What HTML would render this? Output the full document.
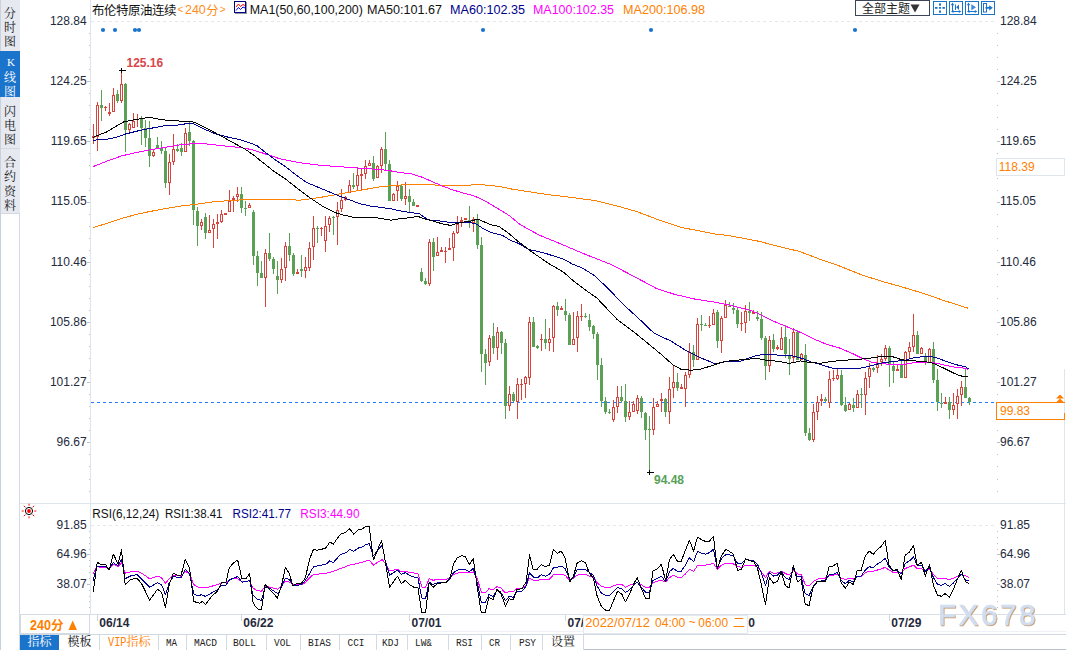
<!DOCTYPE html><html><head><meta charset="utf-8"><title>chart</title><style>html,body{margin:0;padding:0;background:#fff}body{width:1066px;height:650px;overflow:hidden;position:relative;font-family:"Liberation Sans",sans-serif}</style></head><body><svg width="1066" height="650" viewBox="0 0 1066 650" style="position:absolute;left:0;top:0">
<rect width="1066" height="650" fill="#fff"/>
<g shape-rendering="crispEdges">
<rect x="0" y="0" width="1" height="650" fill="#c9d1dc"/>
<rect x="1" y="0" width="19" height="213" fill="#e6e9f0"/>
<rect x="0" y="51" width="20" height="46" fill="#1b74cc"/>
<rect x="1" y="148" width="19" height="1" fill="#d3d8e1"/>
<rect x="1" y="213" width="19" height="1" fill="#d3d8e1"/>
<rect x="19" y="213" width="1" height="437" fill="#d3dae3"/>
<rect x="1064" y="369" width="1" height="245" fill="#dfe5ec"/>
<rect x="90" y="0" width="1" height="614" fill="#dfe5ec"/>
<rect x="20" y="503" width="1046" height="1" fill="#dfe5ec"/>
<rect x="20" y="614" width="1046" height="1" fill="#d9dfe7"/>
<rect x="20" y="634" width="1046" height="1" fill="#d0d8e2"/>
<rect x="378" y="631" width="688" height="1" fill="#eef1f5"/>
<rect x="583" y="649" width="483" height="1" fill="#b9c1cc"/>
</g>
<line x1="91" y1="21.5" x2="994" y2="21.5" stroke="#e3e8ed" stroke-width="1" stroke-dasharray="3 3"/>
<line x1="91" y1="525.5" x2="994" y2="525.5" stroke="#e3e8ed" stroke-width="1" stroke-dasharray="3 3"/>
<g shape-rendering="crispEdges" fill="#b9c1cd">
<rect x="87" y="81" width="3" height="1"/>
<rect x="997" y="81" width="3" height="1"/>
<rect x="87" y="141" width="3" height="1"/>
<rect x="997" y="141" width="3" height="1"/>
<rect x="87" y="202" width="3" height="1"/>
<rect x="997" y="202" width="3" height="1"/>
<rect x="87" y="262" width="3" height="1"/>
<rect x="997" y="262" width="3" height="1"/>
<rect x="87" y="322" width="3" height="1"/>
<rect x="997" y="322" width="3" height="1"/>
<rect x="87" y="382" width="3" height="1"/>
<rect x="997" y="382" width="3" height="1"/>
<rect x="87" y="442" width="3" height="1"/>
<rect x="997" y="442" width="3" height="1"/>
<rect x="89" y="33" width="1" height="1"/>
<rect x="997" y="33" width="1" height="1"/>
<rect x="89" y="45" width="1" height="1"/>
<rect x="997" y="45" width="1" height="1"/>
<rect x="89" y="57" width="1" height="1"/>
<rect x="997" y="57" width="1" height="1"/>
<rect x="89" y="69" width="1" height="1"/>
<rect x="997" y="69" width="1" height="1"/>
<rect x="89" y="93" width="1" height="1"/>
<rect x="997" y="93" width="1" height="1"/>
<rect x="89" y="105" width="1" height="1"/>
<rect x="997" y="105" width="1" height="1"/>
<rect x="89" y="117" width="1" height="1"/>
<rect x="997" y="117" width="1" height="1"/>
<rect x="89" y="129" width="1" height="1"/>
<rect x="997" y="129" width="1" height="1"/>
<rect x="89" y="153" width="1" height="1"/>
<rect x="997" y="153" width="1" height="1"/>
<rect x="89" y="165" width="1" height="1"/>
<rect x="997" y="165" width="1" height="1"/>
<rect x="89" y="178" width="1" height="1"/>
<rect x="997" y="178" width="1" height="1"/>
<rect x="89" y="190" width="1" height="1"/>
<rect x="997" y="190" width="1" height="1"/>
<rect x="89" y="214" width="1" height="1"/>
<rect x="997" y="214" width="1" height="1"/>
<rect x="89" y="226" width="1" height="1"/>
<rect x="997" y="226" width="1" height="1"/>
<rect x="89" y="238" width="1" height="1"/>
<rect x="997" y="238" width="1" height="1"/>
<rect x="89" y="250" width="1" height="1"/>
<rect x="997" y="250" width="1" height="1"/>
<rect x="89" y="274" width="1" height="1"/>
<rect x="997" y="274" width="1" height="1"/>
<rect x="89" y="286" width="1" height="1"/>
<rect x="997" y="286" width="1" height="1"/>
<rect x="89" y="298" width="1" height="1"/>
<rect x="997" y="298" width="1" height="1"/>
<rect x="89" y="310" width="1" height="1"/>
<rect x="997" y="310" width="1" height="1"/>
<rect x="89" y="334" width="1" height="1"/>
<rect x="997" y="334" width="1" height="1"/>
<rect x="89" y="346" width="1" height="1"/>
<rect x="997" y="346" width="1" height="1"/>
<rect x="89" y="358" width="1" height="1"/>
<rect x="997" y="358" width="1" height="1"/>
<rect x="89" y="370" width="1" height="1"/>
<rect x="997" y="370" width="1" height="1"/>
<rect x="89" y="394" width="1" height="1"/>
<rect x="997" y="394" width="1" height="1"/>
<rect x="89" y="406" width="1" height="1"/>
<rect x="997" y="406" width="1" height="1"/>
<rect x="89" y="418" width="1" height="1"/>
<rect x="997" y="418" width="1" height="1"/>
<rect x="89" y="430" width="1" height="1"/>
<rect x="997" y="430" width="1" height="1"/>
<rect x="89" y="454" width="1" height="1"/>
<rect x="997" y="454" width="1" height="1"/>
<rect x="89" y="466" width="1" height="1"/>
<rect x="997" y="466" width="1" height="1"/>
<rect x="89" y="479" width="1" height="1"/>
<rect x="997" y="479" width="1" height="1"/>
<rect x="89" y="491" width="1" height="1"/>
<rect x="997" y="491" width="1" height="1"/>
<rect x="87" y="554" width="3" height="1"/>
<rect x="997" y="554" width="3" height="1"/>
<rect x="87" y="584" width="3" height="1"/>
<rect x="997" y="584" width="3" height="1"/>
<rect x="89" y="531" width="1" height="1"/>
<rect x="997" y="531" width="1" height="1"/>
<rect x="89" y="537" width="1" height="1"/>
<rect x="997" y="537" width="1" height="1"/>
<rect x="89" y="543" width="1" height="1"/>
<rect x="997" y="543" width="1" height="1"/>
<rect x="89" y="549" width="1" height="1"/>
<rect x="997" y="549" width="1" height="1"/>
<rect x="89" y="560" width="1" height="1"/>
<rect x="997" y="560" width="1" height="1"/>
<rect x="89" y="566" width="1" height="1"/>
<rect x="997" y="566" width="1" height="1"/>
<rect x="89" y="572" width="1" height="1"/>
<rect x="997" y="572" width="1" height="1"/>
<rect x="89" y="578" width="1" height="1"/>
<rect x="997" y="578" width="1" height="1"/>
<rect x="89" y="590" width="1" height="1"/>
<rect x="997" y="590" width="1" height="1"/>
<rect x="89" y="596" width="1" height="1"/>
<rect x="997" y="596" width="1" height="1"/>
<rect x="89" y="601" width="1" height="1"/>
<rect x="997" y="601" width="1" height="1"/>
<rect x="89" y="607" width="1" height="1"/>
<rect x="997" y="607" width="1" height="1"/>
</g>
<text x="86.6" y="24.7" font-size="12" fill="#232a3c" font-family="Liberation Sans" text-anchor="end">128.84</text>
<text x="1000" y="24.7" font-size="12" fill="#232a3c" font-family="Liberation Sans">128.84</text>
<text x="86.6" y="84.9" font-size="12" fill="#232a3c" font-family="Liberation Sans" text-anchor="end">124.25</text>
<text x="1000" y="84.9" font-size="12" fill="#232a3c" font-family="Liberation Sans">124.25</text>
<text x="86.6" y="145.1" font-size="12" fill="#232a3c" font-family="Liberation Sans" text-anchor="end">119.65</text>
<text x="1000" y="145.1" font-size="12" fill="#232a3c" font-family="Liberation Sans">119.65</text>
<text x="86.6" y="205.3" font-size="12" fill="#232a3c" font-family="Liberation Sans" text-anchor="end">115.05</text>
<text x="1000" y="205.3" font-size="12" fill="#232a3c" font-family="Liberation Sans">115.05</text>
<text x="86.6" y="265.5" font-size="12" fill="#232a3c" font-family="Liberation Sans" text-anchor="end">110.46</text>
<text x="1000" y="265.5" font-size="12" fill="#232a3c" font-family="Liberation Sans">110.46</text>
<text x="86.6" y="325.7" font-size="12" fill="#232a3c" font-family="Liberation Sans" text-anchor="end">105.86</text>
<text x="1000" y="325.7" font-size="12" fill="#232a3c" font-family="Liberation Sans">105.86</text>
<text x="86.6" y="385.9" font-size="12" fill="#232a3c" font-family="Liberation Sans" text-anchor="end">101.27</text>
<text x="1000" y="385.9" font-size="12" fill="#232a3c" font-family="Liberation Sans">101.27</text>
<text x="86.6" y="446.1" font-size="12" fill="#232a3c" font-family="Liberation Sans" text-anchor="end">96.67</text>
<text x="1000" y="446.1" font-size="12" fill="#232a3c" font-family="Liberation Sans">96.67</text>
<text x="86.6" y="528.7" font-size="12" fill="#232a3c" font-family="Liberation Sans" text-anchor="end">91.85</text>
<text x="1000" y="528.7" font-size="12" fill="#232a3c" font-family="Liberation Sans">91.85</text>
<text x="86.6" y="558.1" font-size="12" fill="#232a3c" font-family="Liberation Sans" text-anchor="end">64.96</text>
<text x="1000" y="558.1" font-size="12" fill="#232a3c" font-family="Liberation Sans">64.96</text>
<text x="86.6" y="587.5" font-size="12" fill="#232a3c" font-family="Liberation Sans" text-anchor="end">38.07</text>
<text x="1000" y="587.5" font-size="12" fill="#232a3c" font-family="Liberation Sans">38.07</text>
<line x1="91" y1="402.5" x2="996" y2="402.5" stroke="#1e82ff" stroke-width="1" stroke-dasharray="3 3" shape-rendering="crispEdges"/>
<g shape-rendering="crispEdges">
<rect x="93" y="124" width="1" height="20" fill="#d8433c"/>
<rect x="92" y="136" width="3" height="2" fill="#d8433c"/>
<rect x="97" y="102" width="1" height="49" fill="#d8433c"/>
<rect x="96" y="105" width="3" height="32" fill="#d8433c"/>
<rect x="97" y="106" width="1" height="30" fill="#fff"/>
<rect x="101" y="90" width="1" height="31" fill="#5aa055"/>
<rect x="100" y="105" width="3" height="3" fill="#5aa055"/>
<rect x="105" y="106" width="1" height="5" fill="#d8433c"/>
<rect x="104" y="107" width="3" height="1" fill="#d8433c"/>
<rect x="109" y="103" width="1" height="13" fill="#d8433c"/>
<rect x="108" y="112" width="3" height="2" fill="#d8433c"/>
<rect x="113" y="88" width="1" height="24" fill="#d8433c"/>
<rect x="112" y="95" width="3" height="17" fill="#d8433c"/>
<rect x="113" y="96" width="1" height="15" fill="#fff"/>
<rect x="117" y="90" width="1" height="13" fill="#5aa055"/>
<rect x="116" y="94" width="3" height="7" fill="#5aa055"/>
<rect x="121" y="70" width="1" height="33" fill="#d8433c"/>
<rect x="120" y="84" width="3" height="17" fill="#d8433c"/>
<rect x="121" y="85" width="1" height="15" fill="#fff"/>
<rect x="125" y="83" width="1" height="69" fill="#5aa055"/>
<rect x="124" y="84" width="3" height="46" fill="#5aa055"/>
<rect x="129" y="123" width="1" height="9" fill="#d8433c"/>
<rect x="128" y="124" width="3" height="6" fill="#d8433c"/>
<rect x="129" y="125" width="1" height="4" fill="#fff"/>
<rect x="133" y="113" width="1" height="15" fill="#d8433c"/>
<rect x="132" y="121" width="3" height="7" fill="#d8433c"/>
<rect x="133" y="122" width="1" height="5" fill="#fff"/>
<rect x="137" y="114" width="1" height="13" fill="#d8433c"/>
<rect x="141" y="116" width="1" height="29" fill="#5aa055"/>
<rect x="140" y="119" width="3" height="9" fill="#5aa055"/>
<rect x="145" y="120" width="1" height="27" fill="#5aa055"/>
<rect x="144" y="128" width="3" height="10" fill="#5aa055"/>
<rect x="149" y="121" width="1" height="46" fill="#5aa055"/>
<rect x="148" y="138" width="3" height="18" fill="#5aa055"/>
<rect x="153" y="150" width="1" height="7" fill="#d8433c"/>
<rect x="152" y="152" width="3" height="4" fill="#d8433c"/>
<rect x="153" y="153" width="1" height="2" fill="#fff"/>
<rect x="157" y="137" width="1" height="12" fill="#5aa055"/>
<rect x="156" y="145" width="3" height="3" fill="#5aa055"/>
<rect x="161" y="141" width="1" height="13" fill="#5aa055"/>
<rect x="160" y="148" width="3" height="3" fill="#5aa055"/>
<rect x="165" y="148" width="1" height="40" fill="#5aa055"/>
<rect x="164" y="151" width="3" height="32" fill="#5aa055"/>
<rect x="169" y="154" width="1" height="41" fill="#d8433c"/>
<rect x="168" y="162" width="3" height="21" fill="#d8433c"/>
<rect x="169" y="163" width="1" height="19" fill="#fff"/>
<rect x="173" y="134" width="1" height="31" fill="#d8433c"/>
<rect x="172" y="149" width="3" height="13" fill="#d8433c"/>
<rect x="173" y="150" width="1" height="11" fill="#fff"/>
<rect x="177" y="144" width="1" height="8" fill="#5aa055"/>
<rect x="176" y="149" width="3" height="2" fill="#5aa055"/>
<rect x="181" y="143" width="1" height="13" fill="#5aa055"/>
<rect x="180" y="148" width="3" height="4" fill="#5aa055"/>
<rect x="185" y="128" width="1" height="24" fill="#d8433c"/>
<rect x="184" y="133" width="3" height="19" fill="#d8433c"/>
<rect x="185" y="134" width="1" height="17" fill="#fff"/>
<rect x="189" y="122" width="1" height="24" fill="#5aa055"/>
<rect x="188" y="132" width="3" height="9" fill="#5aa055"/>
<rect x="193" y="140" width="1" height="85" fill="#5aa055"/>
<rect x="192" y="141" width="3" height="69" fill="#5aa055"/>
<rect x="197" y="207" width="1" height="39" fill="#5aa055"/>
<rect x="196" y="211" width="3" height="15" fill="#5aa055"/>
<rect x="201" y="219" width="1" height="11" fill="#d8433c"/>
<rect x="200" y="222" width="3" height="4" fill="#d8433c"/>
<rect x="201" y="223" width="1" height="2" fill="#fff"/>
<rect x="205" y="213" width="1" height="26" fill="#5aa055"/>
<rect x="204" y="217" width="3" height="16" fill="#5aa055"/>
<rect x="209" y="215" width="1" height="18" fill="#d8433c"/>
<rect x="208" y="230" width="3" height="3" fill="#d8433c"/>
<rect x="209" y="231" width="1" height="1" fill="#fff"/>
<rect x="213" y="219" width="1" height="29" fill="#d8433c"/>
<rect x="212" y="224" width="3" height="5" fill="#d8433c"/>
<rect x="213" y="225" width="1" height="3" fill="#fff"/>
<rect x="217" y="214" width="1" height="25" fill="#d8433c"/>
<rect x="216" y="222" width="3" height="2" fill="#d8433c"/>
<rect x="221" y="210" width="1" height="13" fill="#d8433c"/>
<rect x="220" y="214" width="3" height="8" fill="#d8433c"/>
<rect x="221" y="215" width="1" height="6" fill="#fff"/>
<rect x="225" y="213" width="1" height="2" fill="#d8433c"/>
<rect x="224" y="213" width="3" height="2" fill="#d8433c"/>
<rect x="229" y="190" width="1" height="22" fill="#d8433c"/>
<rect x="228" y="201" width="3" height="11" fill="#d8433c"/>
<rect x="229" y="202" width="1" height="9" fill="#fff"/>
<rect x="233" y="196" width="1" height="16" fill="#d8433c"/>
<rect x="232" y="198" width="3" height="2" fill="#d8433c"/>
<rect x="237" y="187" width="1" height="15" fill="#d8433c"/>
<rect x="236" y="194" width="3" height="3" fill="#d8433c"/>
<rect x="237" y="195" width="1" height="1" fill="#fff"/>
<rect x="241" y="187" width="1" height="26" fill="#5aa055"/>
<rect x="240" y="194" width="3" height="14" fill="#5aa055"/>
<rect x="245" y="201" width="1" height="15" fill="#5aa055"/>
<rect x="244" y="208" width="3" height="1" fill="#5aa055"/>
<rect x="249" y="203" width="1" height="5" fill="#d8433c"/>
<rect x="248" y="205" width="3" height="3" fill="#d8433c"/>
<rect x="249" y="206" width="1" height="1" fill="#fff"/>
<rect x="253" y="210" width="1" height="55" fill="#5aa055"/>
<rect x="252" y="212" width="3" height="44" fill="#5aa055"/>
<rect x="257" y="251" width="1" height="35" fill="#5aa055"/>
<rect x="256" y="256" width="3" height="17" fill="#5aa055"/>
<rect x="261" y="261" width="1" height="17" fill="#5aa055"/>
<rect x="260" y="273" width="3" height="5" fill="#5aa055"/>
<rect x="265" y="249" width="1" height="58" fill="#d8433c"/>
<rect x="264" y="253" width="3" height="25" fill="#d8433c"/>
<rect x="265" y="254" width="1" height="23" fill="#fff"/>
<rect x="269" y="233" width="1" height="28" fill="#5aa055"/>
<rect x="268" y="253" width="3" height="6" fill="#5aa055"/>
<rect x="273" y="257" width="1" height="17" fill="#5aa055"/>
<rect x="272" y="259" width="3" height="10" fill="#5aa055"/>
<rect x="277" y="261" width="1" height="33" fill="#5aa055"/>
<rect x="276" y="276" width="3" height="4" fill="#5aa055"/>
<rect x="281" y="258" width="1" height="25" fill="#d8433c"/>
<rect x="280" y="269" width="3" height="11" fill="#d8433c"/>
<rect x="281" y="270" width="1" height="9" fill="#fff"/>
<rect x="285" y="242" width="1" height="39" fill="#d8433c"/>
<rect x="284" y="246" width="3" height="22" fill="#d8433c"/>
<rect x="285" y="247" width="1" height="20" fill="#fff"/>
<rect x="289" y="233" width="1" height="28" fill="#5aa055"/>
<rect x="288" y="246" width="3" height="9" fill="#5aa055"/>
<rect x="293" y="253" width="1" height="23" fill="#5aa055"/>
<rect x="292" y="255" width="3" height="19" fill="#5aa055"/>
<rect x="297" y="269" width="1" height="5" fill="#d8433c"/>
<rect x="296" y="272" width="3" height="2" fill="#d8433c"/>
<rect x="301" y="255" width="1" height="22" fill="#5aa055"/>
<rect x="300" y="269" width="3" height="2" fill="#5aa055"/>
<rect x="305" y="257" width="1" height="21" fill="#d8433c"/>
<rect x="304" y="267" width="3" height="4" fill="#d8433c"/>
<rect x="305" y="268" width="1" height="2" fill="#fff"/>
<rect x="309" y="242" width="1" height="29" fill="#d8433c"/>
<rect x="308" y="248" width="3" height="20" fill="#d8433c"/>
<rect x="309" y="249" width="1" height="18" fill="#fff"/>
<rect x="313" y="216" width="1" height="44" fill="#d8433c"/>
<rect x="312" y="228" width="3" height="19" fill="#d8433c"/>
<rect x="313" y="229" width="1" height="17" fill="#fff"/>
<rect x="317" y="226" width="1" height="17" fill="#5aa055"/>
<rect x="316" y="228" width="3" height="1" fill="#5aa055"/>
<rect x="321" y="227" width="1" height="9" fill="#d8433c"/>
<rect x="320" y="228" width="3" height="1" fill="#d8433c"/>
<rect x="325" y="216" width="1" height="36" fill="#d8433c"/>
<rect x="324" y="226" width="3" height="15" fill="#d8433c"/>
<rect x="325" y="227" width="1" height="13" fill="#fff"/>
<rect x="329" y="216" width="1" height="16" fill="#d8433c"/>
<rect x="328" y="218" width="3" height="7" fill="#d8433c"/>
<rect x="329" y="219" width="1" height="5" fill="#fff"/>
<rect x="333" y="216" width="1" height="19" fill="#5aa055"/>
<rect x="332" y="217" width="3" height="1" fill="#5aa055"/>
<rect x="337" y="202" width="1" height="43" fill="#d8433c"/>
<rect x="336" y="210" width="3" height="7" fill="#d8433c"/>
<rect x="337" y="211" width="1" height="5" fill="#fff"/>
<rect x="341" y="189" width="1" height="23" fill="#d8433c"/>
<rect x="340" y="200" width="3" height="9" fill="#d8433c"/>
<rect x="341" y="201" width="1" height="7" fill="#fff"/>
<rect x="345" y="196" width="1" height="5" fill="#d8433c"/>
<rect x="344" y="197" width="3" height="3" fill="#d8433c"/>
<rect x="345" y="198" width="1" height="1" fill="#fff"/>
<rect x="349" y="180" width="1" height="13" fill="#d8433c"/>
<rect x="348" y="185" width="3" height="8" fill="#d8433c"/>
<rect x="349" y="186" width="1" height="6" fill="#fff"/>
<rect x="353" y="173" width="1" height="16" fill="#5aa055"/>
<rect x="352" y="185" width="3" height="2" fill="#5aa055"/>
<rect x="357" y="167" width="1" height="24" fill="#d8433c"/>
<rect x="356" y="175" width="3" height="11" fill="#d8433c"/>
<rect x="357" y="176" width="1" height="9" fill="#fff"/>
<rect x="361" y="169" width="1" height="22" fill="#d8433c"/>
<rect x="360" y="174" width="3" height="2" fill="#d8433c"/>
<rect x="365" y="160" width="1" height="19" fill="#d8433c"/>
<rect x="364" y="166" width="3" height="8" fill="#d8433c"/>
<rect x="365" y="167" width="1" height="6" fill="#fff"/>
<rect x="369" y="160" width="1" height="6" fill="#d8433c"/>
<rect x="368" y="163" width="3" height="3" fill="#d8433c"/>
<rect x="369" y="164" width="1" height="1" fill="#fff"/>
<rect x="373" y="156" width="1" height="25" fill="#5aa055"/>
<rect x="372" y="163" width="3" height="16" fill="#5aa055"/>
<rect x="377" y="165" width="1" height="13" fill="#d8433c"/>
<rect x="376" y="166" width="3" height="12" fill="#d8433c"/>
<rect x="377" y="167" width="1" height="10" fill="#fff"/>
<rect x="381" y="147" width="1" height="26" fill="#d8433c"/>
<rect x="380" y="149" width="3" height="17" fill="#d8433c"/>
<rect x="381" y="150" width="1" height="15" fill="#fff"/>
<rect x="385" y="132" width="1" height="38" fill="#5aa055"/>
<rect x="384" y="149" width="3" height="15" fill="#5aa055"/>
<rect x="389" y="160" width="1" height="41" fill="#5aa055"/>
<rect x="388" y="164" width="3" height="37" fill="#5aa055"/>
<rect x="393" y="193" width="1" height="8" fill="#d8433c"/>
<rect x="392" y="194" width="3" height="7" fill="#d8433c"/>
<rect x="393" y="195" width="1" height="5" fill="#fff"/>
<rect x="397" y="181" width="1" height="20" fill="#d8433c"/>
<rect x="396" y="186" width="3" height="5" fill="#d8433c"/>
<rect x="397" y="187" width="1" height="3" fill="#fff"/>
<rect x="401" y="185" width="1" height="16" fill="#5aa055"/>
<rect x="400" y="186" width="3" height="13" fill="#5aa055"/>
<rect x="405" y="182" width="1" height="23" fill="#d8433c"/>
<rect x="404" y="196" width="3" height="3" fill="#d8433c"/>
<rect x="405" y="197" width="1" height="1" fill="#fff"/>
<rect x="409" y="189" width="1" height="24" fill="#5aa055"/>
<rect x="408" y="196" width="3" height="6" fill="#5aa055"/>
<rect x="413" y="199" width="1" height="7" fill="#5aa055"/>
<rect x="412" y="202" width="3" height="4" fill="#5aa055"/>
<rect x="417" y="205" width="1" height="2" fill="#d8433c"/>
<rect x="416" y="205" width="3" height="2" fill="#d8433c"/>
<rect x="421" y="268" width="1" height="14" fill="#5aa055"/>
<rect x="420" y="272" width="3" height="9" fill="#5aa055"/>
<rect x="425" y="278" width="1" height="7" fill="#5aa055"/>
<rect x="424" y="281" width="3" height="3" fill="#5aa055"/>
<rect x="429" y="239" width="1" height="47" fill="#d8433c"/>
<rect x="428" y="242" width="3" height="42" fill="#d8433c"/>
<rect x="429" y="243" width="1" height="40" fill="#fff"/>
<rect x="433" y="238" width="1" height="33" fill="#5aa055"/>
<rect x="432" y="242" width="3" height="15" fill="#5aa055"/>
<rect x="437" y="237" width="1" height="19" fill="#d8433c"/>
<rect x="436" y="252" width="3" height="4" fill="#d8433c"/>
<rect x="437" y="253" width="1" height="2" fill="#fff"/>
<rect x="441" y="247" width="1" height="5" fill="#d8433c"/>
<rect x="440" y="250" width="3" height="2" fill="#d8433c"/>
<rect x="445" y="247" width="1" height="16" fill="#d8433c"/>
<rect x="444" y="251" width="3" height="1" fill="#d8433c"/>
<rect x="449" y="238" width="1" height="12" fill="#d8433c"/>
<rect x="448" y="248" width="3" height="2" fill="#d8433c"/>
<rect x="453" y="231" width="1" height="30" fill="#d8433c"/>
<rect x="452" y="233" width="3" height="15" fill="#d8433c"/>
<rect x="453" y="234" width="1" height="13" fill="#fff"/>
<rect x="457" y="216" width="1" height="18" fill="#d8433c"/>
<rect x="456" y="224" width="3" height="9" fill="#d8433c"/>
<rect x="457" y="225" width="1" height="7" fill="#fff"/>
<rect x="461" y="217" width="1" height="10" fill="#d8433c"/>
<rect x="460" y="220" width="3" height="2" fill="#d8433c"/>
<rect x="465" y="218" width="1" height="2" fill="#d8433c"/>
<rect x="464" y="218" width="3" height="2" fill="#d8433c"/>
<rect x="469" y="206" width="1" height="22" fill="#5aa055"/>
<rect x="468" y="220" width="3" height="1" fill="#5aa055"/>
<rect x="473" y="217" width="1" height="15" fill="#d8433c"/>
<rect x="472" y="219" width="3" height="4" fill="#d8433c"/>
<rect x="473" y="220" width="1" height="2" fill="#fff"/>
<rect x="477" y="214" width="1" height="35" fill="#5aa055"/>
<rect x="476" y="220" width="3" height="25" fill="#5aa055"/>
<rect x="481" y="237" width="1" height="135" fill="#5aa055"/>
<rect x="480" y="245" width="3" height="109" fill="#5aa055"/>
<rect x="485" y="349" width="1" height="36" fill="#5aa055"/>
<rect x="484" y="354" width="3" height="9" fill="#5aa055"/>
<rect x="489" y="335" width="1" height="31" fill="#d8433c"/>
<rect x="488" y="338" width="3" height="24" fill="#d8433c"/>
<rect x="489" y="339" width="1" height="22" fill="#fff"/>
<rect x="493" y="323" width="1" height="31" fill="#5aa055"/>
<rect x="492" y="336" width="3" height="12" fill="#5aa055"/>
<rect x="497" y="327" width="1" height="33" fill="#d8433c"/>
<rect x="496" y="332" width="3" height="16" fill="#d8433c"/>
<rect x="497" y="333" width="1" height="14" fill="#fff"/>
<rect x="501" y="331" width="1" height="23" fill="#5aa055"/>
<rect x="500" y="332" width="3" height="11" fill="#5aa055"/>
<rect x="505" y="339" width="1" height="80" fill="#5aa055"/>
<rect x="504" y="343" width="3" height="63" fill="#5aa055"/>
<rect x="509" y="386" width="1" height="25" fill="#d8433c"/>
<rect x="508" y="394" width="3" height="12" fill="#d8433c"/>
<rect x="509" y="395" width="1" height="10" fill="#fff"/>
<rect x="513" y="392" width="1" height="10" fill="#5aa055"/>
<rect x="512" y="394" width="3" height="7" fill="#5aa055"/>
<rect x="517" y="378" width="1" height="41" fill="#d8433c"/>
<rect x="516" y="384" width="3" height="18" fill="#d8433c"/>
<rect x="517" y="385" width="1" height="16" fill="#fff"/>
<rect x="521" y="379" width="1" height="21" fill="#d8433c"/>
<rect x="520" y="384" width="3" height="1" fill="#d8433c"/>
<rect x="525" y="376" width="1" height="22" fill="#d8433c"/>
<rect x="524" y="377" width="3" height="7" fill="#d8433c"/>
<rect x="525" y="378" width="1" height="5" fill="#fff"/>
<rect x="529" y="317" width="1" height="68" fill="#d8433c"/>
<rect x="528" y="322" width="3" height="56" fill="#d8433c"/>
<rect x="529" y="323" width="1" height="54" fill="#fff"/>
<rect x="533" y="317" width="1" height="30" fill="#5aa055"/>
<rect x="532" y="322" width="3" height="25" fill="#5aa055"/>
<rect x="537" y="345" width="1" height="4" fill="#5aa055"/>
<rect x="536" y="346" width="3" height="2" fill="#5aa055"/>
<rect x="541" y="334" width="1" height="17" fill="#d8433c"/>
<rect x="540" y="339" width="3" height="1" fill="#d8433c"/>
<rect x="545" y="319" width="1" height="30" fill="#5aa055"/>
<rect x="544" y="339" width="3" height="4" fill="#5aa055"/>
<rect x="549" y="328" width="1" height="23" fill="#d8433c"/>
<rect x="548" y="339" width="3" height="4" fill="#d8433c"/>
<rect x="549" y="340" width="1" height="2" fill="#fff"/>
<rect x="553" y="305" width="1" height="47" fill="#d8433c"/>
<rect x="552" y="306" width="3" height="32" fill="#d8433c"/>
<rect x="553" y="307" width="1" height="30" fill="#fff"/>
<rect x="557" y="302" width="1" height="14" fill="#5aa055"/>
<rect x="556" y="306" width="3" height="4" fill="#5aa055"/>
<rect x="561" y="306" width="1" height="4" fill="#d8433c"/>
<rect x="560" y="308" width="3" height="2" fill="#d8433c"/>
<rect x="565" y="299" width="1" height="22" fill="#5aa055"/>
<rect x="564" y="311" width="3" height="4" fill="#5aa055"/>
<rect x="569" y="313" width="1" height="32" fill="#5aa055"/>
<rect x="568" y="315" width="3" height="30" fill="#5aa055"/>
<rect x="573" y="312" width="1" height="33" fill="#d8433c"/>
<rect x="572" y="339" width="3" height="6" fill="#d8433c"/>
<rect x="573" y="340" width="1" height="4" fill="#fff"/>
<rect x="577" y="311" width="1" height="41" fill="#d8433c"/>
<rect x="576" y="316" width="3" height="22" fill="#d8433c"/>
<rect x="577" y="317" width="1" height="20" fill="#fff"/>
<rect x="581" y="304" width="1" height="17" fill="#d8433c"/>
<rect x="580" y="316" width="3" height="1" fill="#d8433c"/>
<rect x="585" y="313" width="1" height="5" fill="#5aa055"/>
<rect x="584" y="316" width="3" height="1" fill="#5aa055"/>
<rect x="589" y="314" width="1" height="17" fill="#5aa055"/>
<rect x="588" y="320" width="3" height="7" fill="#5aa055"/>
<rect x="593" y="325" width="1" height="14" fill="#5aa055"/>
<rect x="592" y="326" width="3" height="8" fill="#5aa055"/>
<rect x="597" y="332" width="1" height="48" fill="#5aa055"/>
<rect x="596" y="334" width="3" height="31" fill="#5aa055"/>
<rect x="601" y="358" width="1" height="49" fill="#5aa055"/>
<rect x="600" y="365" width="3" height="36" fill="#5aa055"/>
<rect x="605" y="397" width="1" height="17" fill="#5aa055"/>
<rect x="604" y="401" width="3" height="11" fill="#5aa055"/>
<rect x="609" y="409" width="1" height="5" fill="#5aa055"/>
<rect x="608" y="412" width="3" height="1" fill="#5aa055"/>
<rect x="613" y="400" width="1" height="22" fill="#d8433c"/>
<rect x="612" y="407" width="3" height="13" fill="#d8433c"/>
<rect x="613" y="408" width="1" height="11" fill="#fff"/>
<rect x="617" y="386" width="1" height="27" fill="#d8433c"/>
<rect x="616" y="397" width="3" height="10" fill="#d8433c"/>
<rect x="617" y="398" width="1" height="8" fill="#fff"/>
<rect x="621" y="386" width="1" height="17" fill="#5aa055"/>
<rect x="620" y="397" width="3" height="4" fill="#5aa055"/>
<rect x="625" y="384" width="1" height="38" fill="#5aa055"/>
<rect x="624" y="401" width="3" height="16" fill="#5aa055"/>
<rect x="629" y="401" width="1" height="19" fill="#d8433c"/>
<rect x="628" y="412" width="3" height="5" fill="#d8433c"/>
<rect x="629" y="413" width="1" height="3" fill="#fff"/>
<rect x="633" y="401" width="1" height="11" fill="#d8433c"/>
<rect x="632" y="404" width="3" height="8" fill="#d8433c"/>
<rect x="633" y="405" width="1" height="6" fill="#fff"/>
<rect x="637" y="395" width="1" height="19" fill="#d8433c"/>
<rect x="636" y="398" width="3" height="13" fill="#d8433c"/>
<rect x="637" y="399" width="1" height="11" fill="#fff"/>
<rect x="641" y="396" width="1" height="22" fill="#5aa055"/>
<rect x="640" y="398" width="3" height="14" fill="#5aa055"/>
<rect x="645" y="412" width="1" height="28" fill="#5aa055"/>
<rect x="644" y="413" width="3" height="17" fill="#5aa055"/>
<rect x="649" y="416" width="1" height="56" fill="#5aa055"/>
<rect x="648" y="429" width="3" height="1" fill="#5aa055"/>
<rect x="653" y="398" width="1" height="37" fill="#d8433c"/>
<rect x="652" y="407" width="3" height="23" fill="#d8433c"/>
<rect x="653" y="408" width="1" height="21" fill="#fff"/>
<rect x="657" y="401" width="1" height="6" fill="#d8433c"/>
<rect x="656" y="404" width="3" height="3" fill="#d8433c"/>
<rect x="657" y="405" width="1" height="1" fill="#fff"/>
<rect x="661" y="393" width="1" height="19" fill="#d8433c"/>
<rect x="660" y="399" width="3" height="2" fill="#d8433c"/>
<rect x="665" y="398" width="1" height="19" fill="#5aa055"/>
<rect x="664" y="399" width="3" height="13" fill="#5aa055"/>
<rect x="669" y="377" width="1" height="47" fill="#d8433c"/>
<rect x="668" y="389" width="3" height="23" fill="#d8433c"/>
<rect x="669" y="390" width="1" height="21" fill="#fff"/>
<rect x="673" y="365" width="1" height="33" fill="#d8433c"/>
<rect x="672" y="382" width="3" height="6" fill="#d8433c"/>
<rect x="673" y="383" width="1" height="4" fill="#fff"/>
<rect x="677" y="373" width="1" height="18" fill="#5aa055"/>
<rect x="676" y="382" width="3" height="6" fill="#5aa055"/>
<rect x="681" y="384" width="1" height="5" fill="#d8433c"/>
<rect x="680" y="387" width="3" height="2" fill="#d8433c"/>
<rect x="685" y="372" width="1" height="35" fill="#d8433c"/>
<rect x="684" y="375" width="3" height="14" fill="#d8433c"/>
<rect x="685" y="376" width="1" height="12" fill="#fff"/>
<rect x="689" y="343" width="1" height="35" fill="#d8433c"/>
<rect x="688" y="352" width="3" height="23" fill="#d8433c"/>
<rect x="689" y="353" width="1" height="21" fill="#fff"/>
<rect x="693" y="345" width="1" height="22" fill="#5aa055"/>
<rect x="692" y="352" width="3" height="8" fill="#5aa055"/>
<rect x="697" y="318" width="1" height="42" fill="#d8433c"/>
<rect x="696" y="324" width="3" height="36" fill="#d8433c"/>
<rect x="697" y="325" width="1" height="34" fill="#fff"/>
<rect x="701" y="315" width="1" height="16" fill="#5aa055"/>
<rect x="700" y="324" width="3" height="1" fill="#5aa055"/>
<rect x="705" y="323" width="1" height="3" fill="#5aa055"/>
<rect x="704" y="325" width="3" height="1" fill="#5aa055"/>
<rect x="709" y="316" width="1" height="12" fill="#d8433c"/>
<rect x="708" y="325" width="3" height="1" fill="#d8433c"/>
<rect x="713" y="309" width="1" height="16" fill="#d8433c"/>
<rect x="712" y="313" width="3" height="12" fill="#d8433c"/>
<rect x="713" y="314" width="1" height="10" fill="#fff"/>
<rect x="717" y="310" width="1" height="38" fill="#5aa055"/>
<rect x="716" y="312" width="3" height="29" fill="#5aa055"/>
<rect x="721" y="316" width="1" height="37" fill="#d8433c"/>
<rect x="720" y="318" width="3" height="23" fill="#d8433c"/>
<rect x="721" y="319" width="1" height="21" fill="#fff"/>
<rect x="725" y="300" width="1" height="18" fill="#d8433c"/>
<rect x="724" y="305" width="3" height="13" fill="#d8433c"/>
<rect x="725" y="306" width="1" height="11" fill="#fff"/>
<rect x="729" y="302" width="1" height="5" fill="#5aa055"/>
<rect x="728" y="306" width="3" height="1" fill="#5aa055"/>
<rect x="733" y="303" width="1" height="11" fill="#5aa055"/>
<rect x="732" y="308" width="3" height="2" fill="#5aa055"/>
<rect x="737" y="307" width="1" height="21" fill="#5aa055"/>
<rect x="736" y="310" width="3" height="14" fill="#5aa055"/>
<rect x="741" y="312" width="1" height="19" fill="#d8433c"/>
<rect x="740" y="323" width="3" height="1" fill="#d8433c"/>
<rect x="745" y="305" width="1" height="28" fill="#d8433c"/>
<rect x="744" y="311" width="3" height="12" fill="#d8433c"/>
<rect x="745" y="312" width="1" height="10" fill="#fff"/>
<rect x="749" y="302" width="1" height="19" fill="#5aa055"/>
<rect x="748" y="311" width="3" height="2" fill="#5aa055"/>
<rect x="753" y="310" width="1" height="4" fill="#d8433c"/>
<rect x="752" y="312" width="3" height="2" fill="#d8433c"/>
<rect x="757" y="311" width="1" height="10" fill="#5aa055"/>
<rect x="756" y="317" width="3" height="2" fill="#5aa055"/>
<rect x="761" y="312" width="1" height="28" fill="#5aa055"/>
<rect x="760" y="319" width="3" height="19" fill="#5aa055"/>
<rect x="765" y="336" width="1" height="44" fill="#5aa055"/>
<rect x="764" y="338" width="3" height="28" fill="#5aa055"/>
<rect x="769" y="336" width="1" height="36" fill="#d8433c"/>
<rect x="768" y="340" width="3" height="26" fill="#d8433c"/>
<rect x="769" y="341" width="1" height="24" fill="#fff"/>
<rect x="773" y="334" width="1" height="18" fill="#5aa055"/>
<rect x="772" y="340" width="3" height="9" fill="#5aa055"/>
<rect x="777" y="345" width="1" height="5" fill="#d8433c"/>
<rect x="776" y="347" width="3" height="2" fill="#d8433c"/>
<rect x="781" y="327" width="1" height="23" fill="#d8433c"/>
<rect x="780" y="338" width="3" height="12" fill="#d8433c"/>
<rect x="781" y="339" width="1" height="10" fill="#fff"/>
<rect x="785" y="325" width="1" height="33" fill="#5aa055"/>
<rect x="784" y="337" width="3" height="17" fill="#5aa055"/>
<rect x="789" y="339" width="1" height="36" fill="#5aa055"/>
<rect x="788" y="355" width="3" height="4" fill="#5aa055"/>
<rect x="793" y="328" width="1" height="35" fill="#d8433c"/>
<rect x="792" y="332" width="3" height="26" fill="#d8433c"/>
<rect x="793" y="333" width="1" height="24" fill="#fff"/>
<rect x="797" y="330" width="1" height="30" fill="#5aa055"/>
<rect x="796" y="332" width="3" height="28" fill="#5aa055"/>
<rect x="801" y="353" width="1" height="7" fill="#d8433c"/>
<rect x="800" y="354" width="3" height="6" fill="#d8433c"/>
<rect x="801" y="355" width="1" height="4" fill="#fff"/>
<rect x="805" y="344" width="1" height="92" fill="#5aa055"/>
<rect x="804" y="355" width="3" height="78" fill="#5aa055"/>
<rect x="809" y="428" width="1" height="13" fill="#5aa055"/>
<rect x="808" y="433" width="3" height="7" fill="#5aa055"/>
<rect x="813" y="404" width="1" height="38" fill="#d8433c"/>
<rect x="812" y="412" width="3" height="28" fill="#d8433c"/>
<rect x="813" y="413" width="1" height="26" fill="#fff"/>
<rect x="817" y="396" width="1" height="24" fill="#d8433c"/>
<rect x="816" y="402" width="3" height="10" fill="#d8433c"/>
<rect x="817" y="403" width="1" height="8" fill="#fff"/>
<rect x="821" y="394" width="1" height="12" fill="#d8433c"/>
<rect x="820" y="399" width="3" height="2" fill="#d8433c"/>
<rect x="825" y="397" width="1" height="5" fill="#5aa055"/>
<rect x="824" y="399" width="3" height="2" fill="#5aa055"/>
<rect x="829" y="371" width="1" height="37" fill="#d8433c"/>
<rect x="828" y="379" width="3" height="24" fill="#d8433c"/>
<rect x="829" y="380" width="1" height="22" fill="#fff"/>
<rect x="833" y="370" width="1" height="11" fill="#d8433c"/>
<rect x="832" y="378" width="3" height="1" fill="#d8433c"/>
<rect x="837" y="369" width="1" height="11" fill="#d8433c"/>
<rect x="836" y="375" width="3" height="4" fill="#d8433c"/>
<rect x="837" y="376" width="1" height="2" fill="#fff"/>
<rect x="841" y="370" width="1" height="36" fill="#5aa055"/>
<rect x="840" y="375" width="3" height="30" fill="#5aa055"/>
<rect x="845" y="397" width="1" height="15" fill="#5aa055"/>
<rect x="844" y="405" width="3" height="6" fill="#5aa055"/>
<rect x="849" y="403" width="1" height="7" fill="#d8433c"/>
<rect x="848" y="404" width="3" height="6" fill="#d8433c"/>
<rect x="849" y="405" width="1" height="4" fill="#fff"/>
<rect x="853" y="398" width="1" height="14" fill="#5aa055"/>
<rect x="852" y="405" width="3" height="3" fill="#5aa055"/>
<rect x="857" y="390" width="1" height="18" fill="#d8433c"/>
<rect x="856" y="394" width="3" height="14" fill="#d8433c"/>
<rect x="857" y="395" width="1" height="12" fill="#fff"/>
<rect x="861" y="388" width="1" height="20" fill="#5aa055"/>
<rect x="860" y="394" width="3" height="1" fill="#5aa055"/>
<rect x="865" y="372" width="1" height="43" fill="#d8433c"/>
<rect x="864" y="378" width="3" height="17" fill="#d8433c"/>
<rect x="865" y="379" width="1" height="15" fill="#fff"/>
<rect x="869" y="363" width="1" height="25" fill="#d8433c"/>
<rect x="868" y="368" width="3" height="9" fill="#d8433c"/>
<rect x="869" y="369" width="1" height="7" fill="#fff"/>
<rect x="873" y="367" width="1" height="5" fill="#5aa055"/>
<rect x="872" y="368" width="3" height="2" fill="#5aa055"/>
<rect x="877" y="355" width="1" height="18" fill="#d8433c"/>
<rect x="876" y="363" width="3" height="5" fill="#d8433c"/>
<rect x="877" y="364" width="1" height="3" fill="#fff"/>
<rect x="881" y="354" width="1" height="12" fill="#d8433c"/>
<rect x="880" y="359" width="3" height="3" fill="#d8433c"/>
<rect x="881" y="360" width="1" height="1" fill="#fff"/>
<rect x="885" y="345" width="1" height="16" fill="#d8433c"/>
<rect x="884" y="348" width="3" height="11" fill="#d8433c"/>
<rect x="885" y="349" width="1" height="9" fill="#fff"/>
<rect x="889" y="346" width="1" height="41" fill="#5aa055"/>
<rect x="888" y="348" width="3" height="17" fill="#5aa055"/>
<rect x="893" y="362" width="1" height="21" fill="#5aa055"/>
<rect x="892" y="366" width="3" height="5" fill="#5aa055"/>
<rect x="897" y="365" width="1" height="6" fill="#d8433c"/>
<rect x="896" y="369" width="3" height="2" fill="#d8433c"/>
<rect x="901" y="361" width="1" height="17" fill="#5aa055"/>
<rect x="900" y="365" width="3" height="13" fill="#5aa055"/>
<rect x="905" y="351" width="1" height="27" fill="#d8433c"/>
<rect x="904" y="352" width="3" height="26" fill="#d8433c"/>
<rect x="905" y="353" width="1" height="24" fill="#fff"/>
<rect x="909" y="342" width="1" height="16" fill="#d8433c"/>
<rect x="908" y="347" width="3" height="5" fill="#d8433c"/>
<rect x="909" y="348" width="1" height="3" fill="#fff"/>
<rect x="913" y="314" width="1" height="38" fill="#d8433c"/>
<rect x="912" y="335" width="3" height="12" fill="#d8433c"/>
<rect x="913" y="336" width="1" height="10" fill="#fff"/>
<rect x="917" y="331" width="1" height="23" fill="#5aa055"/>
<rect x="916" y="335" width="3" height="19" fill="#5aa055"/>
<rect x="921" y="347" width="1" height="7" fill="#d8433c"/>
<rect x="920" y="348" width="3" height="6" fill="#d8433c"/>
<rect x="921" y="349" width="1" height="4" fill="#fff"/>
<rect x="925" y="353" width="1" height="12" fill="#5aa055"/>
<rect x="924" y="357" width="3" height="5" fill="#5aa055"/>
<rect x="929" y="348" width="1" height="15" fill="#d8433c"/>
<rect x="928" y="349" width="3" height="14" fill="#d8433c"/>
<rect x="929" y="350" width="1" height="12" fill="#fff"/>
<rect x="933" y="342" width="1" height="41" fill="#5aa055"/>
<rect x="932" y="349" width="3" height="31" fill="#5aa055"/>
<rect x="937" y="369" width="1" height="42" fill="#5aa055"/>
<rect x="936" y="380" width="3" height="22" fill="#5aa055"/>
<rect x="941" y="393" width="1" height="15" fill="#5aa055"/>
<rect x="940" y="403" width="3" height="1" fill="#5aa055"/>
<rect x="945" y="397" width="1" height="7" fill="#d8433c"/>
<rect x="944" y="402" width="3" height="2" fill="#d8433c"/>
<rect x="949" y="397" width="1" height="22" fill="#5aa055"/>
<rect x="948" y="402" width="3" height="8" fill="#5aa055"/>
<rect x="953" y="393" width="1" height="22" fill="#d8433c"/>
<rect x="952" y="405" width="3" height="5" fill="#d8433c"/>
<rect x="953" y="406" width="1" height="3" fill="#fff"/>
<rect x="957" y="389" width="1" height="30" fill="#d8433c"/>
<rect x="956" y="396" width="3" height="8" fill="#d8433c"/>
<rect x="957" y="397" width="1" height="6" fill="#fff"/>
<rect x="961" y="381" width="1" height="25" fill="#d8433c"/>
<rect x="960" y="387" width="3" height="8" fill="#d8433c"/>
<rect x="961" y="388" width="1" height="6" fill="#fff"/>
<rect x="965" y="368" width="1" height="30" fill="#5aa055"/>
<rect x="964" y="387" width="3" height="11" fill="#5aa055"/>
<rect x="969" y="397" width="1" height="8" fill="#5aa055"/>
<rect x="968" y="398" width="3" height="4" fill="#5aa055"/>
</g>
<polyline points="93.2,227.6 106.6,223.4 121.0,218.7 135.5,214.6 149.9,211.5 164.4,208.8 178.8,206.3 191.2,204.9 203.6,203.2 216.0,201.5 228.3,200.7 240.7,199.9 253.1,199.7 265.5,199.7 279.9,199.9 294.4,199.9 299.0,200.3 318.6,197.7 339.3,194.0 359.9,190.3 380.6,186.8 390.9,185.7 405.3,184.7 421.8,184.5 442.5,185.3 463.1,185.7 477.6,184.5 490.0,185.3 504.4,187.4 509.0,188.6 528.6,191.7 549.3,194.8 569.9,197.2 594.7,200.5 615.3,205.5 636.0,211.3 656.6,219.1 681.4,227.4 704.1,231.9 716.5,234.4 726.8,235.2 759.0,241.3 778.6,246.4 799.3,251.4 819.9,259.2 840.6,266.4 861.2,274.7 881.8,281.3 902.5,287.1 923.1,293.3 943.8,300.5 968.5,308.3" fill="none" stroke="#ff8000" stroke-width="1" stroke-linejoin="round" shape-rendering="crispEdges"/>
<polyline points="93.2,166.5 106.6,161.3 121.0,156.1 135.5,152.6 149.9,149.9 164.4,147.5 178.8,145.0 191.2,143.8 203.6,143.6 216.0,145.0 228.3,146.4 240.7,147.5 251.1,149.5 259.3,152.0 269.6,155.3 279.9,158.8 290.3,160.9 299.0,162.6 318.6,165.1 339.3,166.7 359.9,168.2 380.6,169.6 390.9,170.9 401.2,172.7 411.5,173.8 421.8,177.1 432.2,181.6 442.5,186.1 452.8,189.9 463.1,193.0 473.4,195.6 483.8,200.2 494.1,206.4 504.4,212.6 509.0,215.4 520.4,224.7 539.0,235.0 561.7,244.3 584.4,254.0 611.2,264.5 631.8,275.3 650.4,285.2 656.1,288.3 674.7,294.4 695.3,299.2 716.0,302.3 732.5,305.8 749.0,309.9 759.0,313.9 773.8,321.3 786.1,326.4 798.5,331.6 804.3,334.1 815.5,339.7 826.8,344.4 839.9,348.1 853.0,353.8 862.4,358.5 871.8,362.2 881.2,363.7 894.3,364.5 905.6,364.1 913.1,362.8 924.3,362.2 933.7,362.8 943.1,364.7 952.5,366.9 961.9,367.8 968.4,369.2" fill="none" stroke="#ff00ff" stroke-width="1" stroke-linejoin="round" shape-rendering="crispEdges"/>
<polyline points="93.2,140.2 106.6,139.2 116.9,137.2 125.2,134.1 137.5,131.0 149.9,128.5 164.4,125.8 176.8,125.2 189.1,123.3 193.3,123.7 203.6,128.9 216.0,134.1 228.3,137.2 240.7,139.8 251.1,143.3 257.2,145.8 265.5,152.6 273.8,158.8 286.1,167.1 296.5,175.3 306.8,182.6 310.4,184.1 322.8,189.2 335.2,194.4 347.5,199.1 359.9,203.7 370.2,206.0 380.6,207.4 390.9,208.8 401.2,211.1 411.5,212.6 419.8,214.0 428.0,219.8 438.3,220.8 448.7,222.3 459.0,222.3 469.3,222.5 475.5,223.5 483.8,229.1 492.0,232.8 502.3,235.3 510.6,240.4 518.3,243.3 528.6,249.5 543.1,252.6 563.7,259.2 572.0,263.9 582.3,268.0 594.7,275.7 607.1,287.6 614.8,295.5 622.6,303.7 629.3,309.9 641.7,321.3 654.0,333.2 670.6,340.9 687.1,351.2 699.5,357.4 709.8,361.5 716.0,364.2 724.2,361.9 740.7,361.1 749.0,358.0 757.2,355.3 765.5,354.3 779.0,355.1 791.1,355.6 802.4,358.5 811.8,362.2 821.2,364.7 832.4,368.2 843.7,368.8 856.8,368.8 864.3,367.5 871.8,365.6 879.3,363.5 886.8,362.2 896.2,361.3 905.6,360.0 915.0,357.5 924.3,356.6 931.8,356.6 939.3,358.8 946.9,361.7 956.2,364.7 965.6,366.9 968.4,368.8" fill="none" stroke="#000090" stroke-width="1" stroke-linejoin="round" shape-rendering="crispEdges"/>
<polyline points="93.2,137.2 106.6,132.0 116.9,125.8 124.1,121.7 135.5,119.6 148.9,117.3 158.2,119.0 166.4,120.2 178.8,121.0 191.2,121.5 195.3,122.7 207.7,128.9 220.1,135.5 232.5,142.3 244.9,149.1 253.1,154.7 263.4,163.0 273.8,171.2 286.1,179.5 296.5,187.7 306.8,195.4 310.4,198.1 322.8,206.4 335.2,212.6 343.4,215.0 353.7,217.3 359.9,217.7 370.2,217.1 380.6,218.3 390.9,220.2 399.1,218.8 409.5,217.7 417.7,216.3 423.9,218.8 432.2,220.8 442.5,223.9 450.7,225.4 461.1,222.3 469.3,221.4 477.6,219.2 481.7,220.8 490.0,224.5 499.2,226.6 508.5,233.2 516.8,240.4 520.4,243.3 532.8,252.6 549.3,263.9 563.7,272.2 574.0,281.5 586.4,290.7 596.8,298.0 600.4,301.7 616.9,319.2 633.4,331.6 649.9,345.0 662.3,355.3 672.6,364.6 680.9,369.2 691.2,370.2 699.5,369.4 709.8,366.3 722.2,362.1 732.5,360.5 744.9,359.5 757.2,358.4 767.6,360.5 779.0,361.3 789.3,363.5 800.5,360.9 811.8,362.8 821.2,363.2 832.4,361.3 843.7,360.3 856.8,359.4 868.1,358.5 877.4,357.1 886.8,356.2 894.3,357.1 901.8,359.8 913.1,360.9 924.3,361.3 933.7,363.5 943.1,367.8 952.5,372.5 960.0,375.9 965.6,376.3 968.4,377.2" fill="none" stroke="#000000" stroke-width="1" stroke-linejoin="round" shape-rendering="crispEdges"/>
<g shape-rendering="crispEdges" fill="#000">
<rect x="119" y="70" width="7" height="1"/><rect x="121" y="68" width="1" height="5"/>
<rect x="647" y="472" width="7" height="1"/><rect x="649" y="470" width="1" height="5"/>
</g>
<text x="126.5" y="67" font-size="12" fill="#d8464a" font-family="Liberation Sans" font-weight="bold">125.16</text>
<text x="654" y="484.3" font-size="12" fill="#58a058" font-family="Liberation Sans" font-weight="bold">94.48</text>
<circle cx="103" cy="30" r="2.1" fill="#1b74cc"/>
<circle cx="115" cy="30" r="2.1" fill="#1b74cc"/>
<circle cx="135" cy="30" r="2.1" fill="#1b74cc"/>
<circle cx="139" cy="30" r="2.1" fill="#1b74cc"/>
<circle cx="483" cy="30" r="2.1" fill="#1b74cc"/>
<circle cx="651" cy="30" r="2.1" fill="#1b74cc"/>
<circle cx="855" cy="30" r="2.1" fill="#1b74cc"/>
<polyline points="93.1,573.6 96.5,566.8 105.8,567.7 109.1,568.5 113.4,564.3 118.1,566.3 121.5,562.9 125.2,573.1 132.0,571.4 137.1,571.1 142.1,573.6 149.7,578.7 157.4,576.1 161.6,577.8 165.5,583.2 169.2,578.7 173.4,575.3 181.0,576.1 185.3,571.4 189.5,573.6 193.7,584.6 198.0,587.1 205.6,588.0 211.5,586.3 217.4,584.6 221.6,582.9 225.9,582.9 229.3,579.9 233.5,578.7 237.7,578.7 241.9,581.5 246.2,581.2 249.6,580.9 252.9,588.0 257.2,590.5 261.4,591.3 265.1,586.2 269.0,587.1 278.0,589.3 281.7,585.4 285.4,581.1 289.3,582.0 293.5,584.9 301.6,584.5 305.4,582.5 309.6,577.7 313.5,574.4 325.7,573.5 333.3,571.3 340.9,568.4 349.7,565.1 357.8,563.4 365.4,561.2 369.3,560.0 373.4,565.1 377.3,562.5 382.3,559.5 385.2,563.4 389.6,571.0 393.3,570.1 397.6,569.3 401.5,571.8 405.2,571.3 409.4,572.3 413.6,573.0 417.9,573.5 421.8,587.1 425.5,587.4 429.2,578.6 433.1,580.3 437.3,579.4 446.6,579.1 450.0,577.4 453.4,574.7 457.6,573.0 461.8,572.3 469.4,573.0 473.3,571.8 477.1,578.1 481.3,592.1 485.2,593.0 488.9,588.7 493.1,589.6 497.0,586.5 500.7,587.9 505.5,593.0 509.2,591.3 513.4,591.6 516.8,588.7 521.9,588.2 526.1,585.4 529.5,578.1 533.2,580.3 537.1,580.6 541.3,579.4 545.6,579.8 549.5,579.1 553.5,574.7 561.3,574.4 565.0,575.2 569.8,580.3 573.5,578.1 576.9,575.2 581.1,574.4 585.3,574.4 589.6,576.1 593.5,577.4 597.2,582.8 601.4,586.2 605.6,587.6 609.5,587.6 613.6,585.9 617.5,584.2 621.7,584.5 625.4,587.1 629.3,585.4 633.5,583.7 637.2,582.5 641.1,584.5 645.4,587.4 649.1,587.6 653.0,582.8 657.2,581.1 661.4,580.3 665.7,582.0 669.4,577.7 673.3,575.2 677.5,577.4 681.2,577.4 685.1,574.4 689.4,569.3 693.6,571.3 697.5,565.6 701.5,565.1 705.4,565.1 709.3,564.5 713.4,563.4 717.3,569.3 721.5,565.1 725.7,563.4 729.6,563.4 733.3,563.9 737.6,566.7 741.5,567.3 745.5,565.1 749.4,565.1 753.6,565.4 757.4,567.3 761.3,571.8 765.5,577.7 769.2,571.3 773.6,573.5 777.5,573.0 781.2,571.3 785.3,573.5 789.1,575.2 793.4,570.1 797.6,574.0 801.0,574.0 805.2,584.5 809.1,586.2 812.8,582.0 817.1,579.1 825.5,578.1 829.2,575.2 833.1,575.2 837.4,574.0 841.1,578.1 845.5,579.4 849.2,578.6 853.4,579.1 857.3,576.4 861.0,576.4 865.3,572.7 869.2,571.3 873.2,571.3 877.1,570.1 881.3,569.0 885.2,567.3 889.0,570.1 893.2,572.3 896.9,572.3 901.3,573.0 905.1,568.5 909.5,566.9 913.5,565.2 917.1,568.6 921.5,568.7 925.3,571.0 929.5,568.8 933.5,574.5 937.5,578.4 945.3,578.6 949.5,579.6 953.2,578.3 957.1,576.6 961.3,574.4 965.6,576.0 968.9,577.3" fill="none" stroke="#ff00ff" stroke-width="1" stroke-linejoin="round" shape-rendering="crispEdges"/>
<polyline points="93.1,581.2 96.5,566.8 105.8,566.8 109.1,569.0 113.4,562.6 118.1,566.0 121.5,559.2 125.2,578.7 132.0,575.3 137.1,574.8 142.1,579.5 149.7,587.1 157.4,582.9 161.6,584.6 165.5,594.7 169.2,582.9 173.4,576.5 181.0,577.8 185.3,569.4 189.5,573.6 193.7,593.9 198.0,596.1 201.3,594.7 205.6,596.4 211.5,593.0 217.4,589.7 221.6,585.4 225.9,585.4 229.3,579.9 233.5,578.2 237.7,576.5 241.9,582.1 246.2,581.5 249.6,580.4 252.9,594.7 257.2,599.0 261.4,600.6 265.1,587.1 269.0,587.9 278.0,593.8 281.7,586.2 285.4,578.1 289.3,579.4 293.5,585.9 301.6,584.5 305.4,580.3 309.6,573.5 313.5,566.8 321.4,565.1 325.7,564.5 329.9,560.8 333.3,562.5 337.5,557.8 340.9,554.4 346.0,552.7 349.7,549.3 353.6,551.5 357.8,548.1 361.5,547.6 365.4,544.8 369.3,543.6 373.4,555.8 377.3,551.0 382.3,544.8 385.2,560.8 389.6,575.2 393.3,572.7 397.6,570.1 401.5,574.4 405.2,572.7 409.4,575.2 413.6,576.9 417.9,577.7 421.8,598.0 425.5,598.9 429.2,582.0 433.1,584.5 437.3,582.8 446.6,582.0 450.0,578.6 453.4,572.7 457.6,570.1 461.8,569.3 465.2,569.6 469.4,571.8 473.3,568.4 477.1,582.0 481.3,602.3 485.2,603.1 488.9,594.7 493.1,596.4 497.0,590.4 500.7,592.1 505.5,600.6 509.2,596.4 513.4,597.2 516.8,591.6 521.9,591.3 526.1,586.2 529.5,572.7 533.2,576.9 537.1,578.1 541.3,574.7 545.6,576.1 549.5,574.4 553.5,567.6 557.4,567.3 561.3,566.2 565.0,568.4 569.8,579.4 573.5,577.7 576.9,570.1 581.1,569.3 585.3,569.3 589.6,572.7 593.5,575.2 597.2,586.2 601.4,593.0 605.6,595.5 609.5,595.5 613.6,591.3 617.5,587.6 621.7,588.7 625.4,592.6 629.3,589.9 633.5,585.4 637.2,582.0 641.1,587.1 645.4,592.1 649.1,592.6 653.0,580.3 657.2,578.6 661.4,576.1 665.7,582.0 669.4,571.8 673.3,568.4 677.5,571.3 681.2,571.3 685.1,565.6 689.4,557.8 693.6,561.7 697.5,551.5 701.5,553.2 705.4,554.1 709.3,552.7 713.4,549.3 717.3,567.9 721.5,558.3 725.7,554.9 729.6,554.9 733.3,556.1 737.6,563.4 741.5,563.4 745.5,559.5 749.4,560.0 753.6,560.5 757.4,564.2 761.3,572.7 765.5,585.4 769.2,572.7 773.6,576.2 777.5,575.2 781.2,571.3 785.3,577.7 789.1,579.8 793.4,568.4 797.6,576.9 801.0,576.1 805.2,593.8 809.1,595.5 812.8,587.1 817.1,581.5 825.5,580.3 829.2,574.7 833.1,574.4 837.4,572.3 841.1,580.3 845.5,583.7 849.2,580.3 853.4,582.0 857.3,576.1 861.0,576.1 865.3,570.1 869.2,566.7 873.2,567.6 877.1,564.2 881.3,561.7 885.2,558.3 889.0,566.7 893.2,570.6 896.9,570.1 901.3,574.0 905.1,563.4 909.5,560.9 913.5,556.8 917.1,565.0 921.5,565.0 925.3,571.2 929.5,567.1 933.5,577.8 937.5,584.4 941.3,585.3 945.1,583.5 949.5,586.5 953.2,583.2 957.1,578.9 961.3,574.0 965.6,579.9 968.9,580.6" fill="none" stroke="#000090" stroke-width="1" stroke-linejoin="round" shape-rendering="crispEdges"/>
<polyline points="93.1,592.2 97.3,562.3 100.7,564.3 105.8,564.6 109.1,570.2 113.4,554.1 118.1,564.3 121.5,549.9 125.2,584.6 130.3,579.5 137.1,578.2 142.1,584.6 149.7,600.2 157.4,589.3 161.6,592.2 165.5,607.4 169.2,584.6 173.4,573.1 177.7,575.3 181.0,575.3 185.3,559.2 189.5,567.7 193.7,601.5 199.7,603.2 202.2,601.5 205.6,604.6 211.5,596.4 217.4,591.4 221.6,582.4 225.9,582.4 229.3,567.7 233.5,562.9 237.7,560.1 241.9,578.7 246.2,578.7 249.6,573.1 252.9,601.5 255.5,606.6 258.0,609.0 261.4,609.9 265.1,584.5 269.0,588.7 277.5,598.0 281.7,584.5 285.4,567.6 289.3,573.5 292.7,585.4 296.9,583.7 301.6,583.2 305.4,577.7 309.6,559.1 313.5,549.3 317.2,550.3 321.4,549.3 325.7,548.1 329.9,541.9 333.3,544.2 337.5,538.0 340.9,534.1 346.0,532.1 349.7,528.7 353.6,534.1 357.8,530.0 361.5,529.5 365.4,526.7 369.3,526.7 373.4,560.0 377.3,550.3 381.5,540.5 385.2,560.8 389.6,587.4 393.3,582.0 397.6,576.1 401.5,583.7 405.2,580.3 409.4,584.5 413.6,587.1 417.9,587.4 421.8,612.9 425.5,612.9 429.2,582.0 433.1,587.4 437.3,583.7 446.6,582.0 450.0,577.7 453.4,564.2 457.6,557.4 461.8,555.8 465.2,556.6 469.4,564.2 473.3,558.8 477.1,586.2 481.3,612.9 485.2,612.9 488.9,597.2 493.1,599.7 497.0,589.6 500.7,593.0 505.5,606.2 509.2,598.9 513.4,599.7 516.8,589.6 521.9,588.7 526.1,582.0 529.5,554.9 533.2,569.3 537.1,569.3 541.3,564.5 545.6,566.7 549.5,565.1 553.5,549.3 557.4,553.2 561.3,551.0 565.0,558.3 569.8,582.0 573.5,576.1 576.9,563.4 581.1,560.8 585.3,562.5 589.6,573.5 593.5,578.6 597.2,596.4 601.4,606.5 605.6,610.2 609.5,610.2 613.6,600.6 617.5,591.3 621.7,593.8 625.4,601.8 629.3,594.7 633.5,584.5 637.2,577.4 641.1,587.9 645.4,598.0 649.1,598.4 653.0,571.0 657.2,569.0 661.4,564.2 665.7,581.1 669.4,559.5 673.3,554.4 677.5,561.2 681.2,561.2 685.1,551.0 689.4,540.2 693.6,551.0 697.5,537.1 701.5,539.7 705.4,541.4 709.3,541.4 713.4,536.3 717.3,569.0 721.5,555.8 725.7,549.3 729.6,551.5 733.3,554.1 737.6,570.6 741.5,569.3 745.5,558.8 749.4,560.5 753.6,561.7 757.4,567.9 761.3,584.5 765.5,604.8 769.3,577.7 773.6,583.2 777.5,581.1 781.2,571.8 785.3,585.4 789.1,588.2 793.4,565.1 797.6,582.0 801.0,579.1 805.2,604.0 809.1,605.7 812.8,587.9 817.1,582.0 825.5,581.1 829.2,566.7 833.1,565.9 837.4,563.4 841.1,582.8 845.5,588.2 849.2,582.0 853.4,584.5 857.3,570.1 861.0,571.0 865.3,555.8 869.2,551.0 873.2,554.4 877.1,549.8 881.3,546.4 885.2,540.5 889.0,565.1 893.2,571.0 896.9,569.3 901.3,579.4 905.1,555.4 909.5,552.0 913.5,545.4 917.1,565.3 921.5,562.3 925.3,576.2 929.5,564.4 933.5,585.7 937.5,595.0 941.3,596.3 945.1,593.7 949.5,597.2 953.2,589.8 957.1,579.9 961.3,570.5 965.6,581.9 968.9,583.6" fill="none" stroke="#000000" stroke-width="1" stroke-linejoin="round" shape-rendering="crispEdges"/>
<rect x="996.5" y="158.5" width="68" height="17" fill="#fff" stroke="#dfe6ec" shape-rendering="crispEdges"/>
<text x="998.8" y="170.7" font-size="12" fill="#ff7f00" font-family="Liberation Sans">118.39</text>
<g shape-rendering="crispEdges" fill="#ff7f00"><rect x="996" y="402" width="69" height="1"/><rect x="996" y="419" width="69" height="1"/><rect x="996" y="402" width="1" height="18"/><rect x="1064" y="413" width="1" height="6"/></g>
<rect x="997" y="403" width="67" height="16" fill="#fff"/>
<text x="1000" y="415" font-size="12" fill="#ff7f00" font-family="Liberation Sans">99.83</text>
<path d="M1056 398.5 L1060 394.5 L1064 398.5 Z M1056 402.5 L1060 398.5 L1064 402.5 Z" fill="#ff7f00"/>
<text x="91.9 103.9 115.9 127.9 139.9 151.9 163.9" y="14.6" font-size="12.5" fill="#111" font-family="'Liberation Sans','Noto Sans CJK SC',sans-serif">布伦特原油连续</text>
<text x="177.6" y="13.2" font-size="10" fill="#ff8c1a" font-family="Liberation Sans">&lt;</text>
<text x="185" y="14" font-size="12" fill="#ff8c1a" font-family="Liberation Sans" textLength="20.8" lengthAdjust="spacingAndGlyphs">240</text>
<text x="206.3" y="14.5" font-size="12.4" fill="#ff8c1a" font-family="'Liberation Sans','Noto Sans CJK SC',sans-serif">分</text>
<text x="219.8" y="13.2" font-size="10" fill="#ff8c1a" font-family="Liberation Sans">&gt;</text>
<g shape-rendering="crispEdges"><rect x="235" y="2" width="12" height="12" fill="#8e96a3"/><rect x="234.5" y="1.5" width="11" height="11" fill="#fff" stroke="#000080"/></g>
<polyline points="236,7 238.5,4 240.5,6.5 243,4.5 245,5.5" fill="none" stroke="#ff0000" stroke-width="1"/>
<polyline points="236,10.5 238.5,7.5 240.5,9.5 243,7 245,8" fill="none" stroke="#0000ff" stroke-width="1"/>
<text x="249.8" y="14" font-size="12" fill="#111" font-family="Liberation Sans" textLength="113" lengthAdjust="spacingAndGlyphs">MA1(50,60,100,200)</text>
<text x="367" y="14" font-size="12" fill="#111" font-family="Liberation Sans" textLength="75" lengthAdjust="spacingAndGlyphs">MA50:101.67</text>
<text x="450" y="14" font-size="12" fill="#00008b" font-family="Liberation Sans" textLength="75" lengthAdjust="spacingAndGlyphs">MA60:102.35</text>
<text x="533" y="14" font-size="12" fill="#ff00ff" font-family="Liberation Sans" textLength="81" lengthAdjust="spacingAndGlyphs">MA100:102.35</text>
<text x="623" y="14" font-size="12" fill="#ff8000" font-family="Liberation Sans" textLength="82" lengthAdjust="spacingAndGlyphs">MA200:106.98</text>
<rect x="855.5" y="0.5" width="74" height="15" fill="#fff" stroke="#3c4657" shape-rendering="crispEdges"/>
<text x="862 874 886 898" y="13" font-size="12" fill="#222" font-family="'Liberation Sans','Noto Sans CJK SC',sans-serif">全部主题</text>
<path d="M910.5 4.5 L919.5 4.5 L915 12.5 Z" fill="#333"/>
<rect x="933.5" y="1.5" width="13" height="13" fill="#fff" stroke="#1b74cc" shape-rendering="crispEdges"/>
<rect x="949.5" y="1.5" width="13" height="13" fill="#fff" stroke="#1b74cc" shape-rendering="crispEdges"/>
<rect x="965.5" y="1.5" width="13" height="13" fill="#fff" stroke="#1b74cc" shape-rendering="crispEdges"/>
<rect x="981.5" y="1.5" width="13" height="13" fill="#fff" stroke="#1b74cc" shape-rendering="crispEdges"/>
<g fill="#1b74cc"><rect x="939" y="3.4" width="2" height="2.2"/><rect x="939" y="10.5" width="2" height="2.2"/><rect x="935" y="7" width="2.5" height="1.8"/><rect x="942.4" y="7" width="2.5" height="1.8"/><rect x="939" y="7" width="2" height="1.8"/></g>
<g stroke="#1b74cc" fill="#1b74cc" stroke-width="1"><path d="M952.5 3.5 V11.5 H960" fill="none"/><path d="M950.8 5.2 L952.5 2.6 L954.2 5.2 Z M958.8 9.9 L961.4 11.5 L958.8 13.1 Z M953.5 9.9 L951 11.5 L953.5 13.1 Z" stroke="none"/><path d="M955.5 4.5 V10" fill="none"/><path d="M959 4.5 V10 L956.2 7.2 Z" stroke="none"/></g>
<g stroke="#1b74cc" fill="#1b74cc" stroke-width="1"><path d="M968.5 3.5 V11.5 H976" fill="none"/><path d="M966.8 5.2 L968.5 2.6 L970.2 5.2 Z M974.8 9.9 L977.4 11.5 L974.8 13.1 Z M969.5 9.9 L967 11.5 L969.5 13.1 Z" stroke="none"/><path d="M971.3 4.2 L976 7.3 L971.3 10.4 Z" stroke="none" fill="#3f8ad8"/></g>
<g stroke="#1b74cc" fill="#1b74cc" stroke-width="1"><rect x="983.5" y="3.5" width="3" height="8.5" fill="none"/><path d="M985.5 7.8 H990" fill="none" stroke-width="1.8"/><path d="M989.2 5.2 L992.8 7.8 L989.2 10.4 Z" stroke="none"/></g>
<g font-size="12" fill="#1a1a1a" font-family="'Liberation Serif','Noto Serif CJK SC',serif"><text x="4" y="17.5">分</text><text x="4" y="31.8">时</text><text x="4" y="46.1">图</text></g>
<text x="7" y="66" font-size="11" fill="#fff" font-family="Liberation Serif">K</text>
<g font-size="12" fill="#fff" font-family="'Liberation Serif','Noto Serif CJK SC',serif"><text x="4" y="81.5">线</text><text x="4" y="95.5">图</text></g>
<g font-size="12" fill="#1a1a1a" font-family="'Liberation Serif','Noto Serif CJK SC',serif"><text x="4" y="116">闪</text><text x="4" y="130">电</text><text x="4" y="144">图</text></g>
<g font-size="12" fill="#1a1a1a" font-family="'Liberation Serif','Noto Serif CJK SC',serif"><text x="4" y="166.5">合</text><text x="4" y="181">约</text><text x="4" y="195.5">资</text><text x="4" y="210">料</text></g>
<text x="92.3" y="518.3" font-size="12" fill="#111" font-family="Liberation Sans" textLength="67" lengthAdjust="spacingAndGlyphs">RSI(6,12,24)</text>
<text x="165" y="518.3" font-size="12" fill="#111" font-family="Liberation Sans" textLength="57.5" lengthAdjust="spacingAndGlyphs">RSI1:38.41</text>
<text x="232.5" y="518.3" font-size="12" fill="#00008b" font-family="Liberation Sans" textLength="58.5" lengthAdjust="spacingAndGlyphs">RSI2:41.77</text>
<text x="300.3" y="518.3" font-size="12" fill="#ff00ff" font-family="Liberation Sans" textLength="59.2" lengthAdjust="spacingAndGlyphs">RSI3:44.90</text>
<circle cx="29" cy="511" r="3.6" fill="#fff" stroke="#000" stroke-width="1"/><circle cx="29" cy="511" r="1.9" fill="#ff0000"/>
<path d="M34.3 511.0 L36.3 511.0 M32.7 514.7 L34.2 516.2 M29.0 516.3 L29.0 518.3 M25.3 514.7 L23.8 516.2 M23.7 511.0 L21.7 511.0 M25.3 507.3 L23.8 505.8 M29.0 505.7 L29.0 503.7 M32.7 507.3 L34.2 505.8" stroke="#ff0000" stroke-width="1" fill="none"/>
<rect x="20.5" y="614.5" width="69" height="19" fill="#fff" stroke="#d3dae3" shape-rendering="crispEdges"/>
<text x="30" y="630" font-size="14" fill="#ff7f00" font-family="Liberation Sans" font-weight="bold" textLength="21" lengthAdjust="spacingAndGlyphs">240</text>
<text x="51" y="630.3" font-size="12.5" font-weight="bold" fill="#ff7f00" font-family="'Liberation Sans','Noto Sans CJK SC',sans-serif">分</text>
<path d="M68.5 630 L77 630 L72.7 620.5 Z" fill="#ff7f00"/>
<g shape-rendering="crispEdges" fill="#d0d6df"><rect x="97" y="615" width="1" height="6"/><rect x="241" y="615" width="1" height="6"/><rect x="409" y="615" width="1" height="6"/><rect x="565" y="615" width="1" height="6"/><rect x="889" y="615" width="1" height="6"/></g>
<text x="99.3" y="627" font-size="12" fill="#1f2a3c" font-family="Liberation Sans" font-weight="bold">06/14</text>
<text x="243.3" y="627" font-size="12" fill="#1f2a3c" font-family="Liberation Sans" font-weight="bold">06/22</text>
<text x="411.5" y="627" font-size="12" fill="#1f2a3c" font-family="Liberation Sans" font-weight="bold">07/01</text>
<text x="567.5" y="627" font-size="12" fill="#1f2a3c" font-family="Liberation Sans" font-weight="bold">07/</text>
<text x="748.2" y="627" font-size="12" fill="#1f2a3c" font-family="Liberation Sans" font-weight="bold">0</text>
<text x="891.3" y="627" font-size="12" fill="#1f2a3c" font-family="Liberation Sans" font-weight="bold">07/29</text>
<rect x="583.5" y="615.5" width="164" height="18" fill="#fff" stroke="#e4e9ef" shape-rendering="crispEdges"/>
<text x="585.3" y="627" font-size="12" fill="#ff7f00" font-family="Liberation Sans" textLength="64.7" lengthAdjust="spacingAndGlyphs">2022/07/12</text>
<text x="655" y="627" font-size="12" fill="#ff7f00" font-family="Liberation Sans" textLength="30.3" lengthAdjust="spacingAndGlyphs">04:00</text>
<text x="688.8" y="626.3" font-size="12" fill="#ff7f00" font-family="Liberation Sans">~</text>
<text x="698.3" y="627" font-size="12" fill="#ff7f00" font-family="Liberation Sans" textLength="29.7" lengthAdjust="spacingAndGlyphs">06:00</text>
<text x="733" y="627.3" font-size="12" fill="#ff7f00" font-family="'Liberation Sans','Noto Sans CJK SC',sans-serif">二</text>
<text x="938" y="625.3" font-size="29.5" font-family="Liberation Sans" fill="#d1def0" letter-spacing="2.6" stroke="#d1def0" stroke-width="0.6" filter="url(#ws)">FX678</text>
<rect x="20" y="635" width="39" height="15" fill="#1b74cc" shape-rendering="crispEdges"/>
<text x="27.5 39.5" y="646.3" font-size="12" fill="#fff" font-family="'Liberation Serif','Noto Serif CJK SC',serif">指标</text>
<text x="67.5 79.5" y="646.3" font-size="12" fill="#111" font-family="'Liberation Serif','Noto Serif CJK SC',serif">模板</text>
<text x="108" y="646" font-size="12" fill="#ff7f00" font-family="Liberation Mono" textLength="18.5" lengthAdjust="spacingAndGlyphs">VIP</text>
<text x="126.5 138.5" y="646.3" font-size="12" fill="#ff7f00" font-family="'Liberation Serif','Noto Serif CJK SC',serif">指标</text>
<g shape-rendering="crispEdges" fill="#d3dae3"><rect x="99" y="635" width="1" height="15"/><rect x="158" y="635" width="1" height="15"/><rect x="186" y="635" width="1" height="15"/><rect x="226" y="635" width="1" height="15"/><rect x="266" y="635" width="1" height="15"/><rect x="300" y="635" width="1" height="15"/><rect x="339" y="635" width="1" height="15"/><rect x="376" y="635" width="1" height="15"/><rect x="407" y="635" width="1" height="15"/><rect x="448" y="635" width="1" height="15"/><rect x="481" y="635" width="1" height="15"/><rect x="510" y="635" width="1" height="15"/><rect x="542" y="635" width="1" height="15"/><rect x="583" y="635" width="1" height="15"/></g>
<text x="166" y="645.7" font-size="11" fill="#222" font-family="Liberation Mono" textLength="11" lengthAdjust="spacingAndGlyphs">MA</text>
<text x="194" y="645.7" font-size="11" fill="#222" font-family="Liberation Mono" textLength="23" lengthAdjust="spacingAndGlyphs">MACD</text>
<text x="233" y="645.7" font-size="11" fill="#222" font-family="Liberation Mono" textLength="23" lengthAdjust="spacingAndGlyphs">BOLL</text>
<text x="274" y="645.7" font-size="11" fill="#222" font-family="Liberation Mono" textLength="17" lengthAdjust="spacingAndGlyphs">VOL</text>
<text x="308" y="645.7" font-size="11" fill="#222" font-family="Liberation Mono" textLength="23" lengthAdjust="spacingAndGlyphs">BIAS</text>
<text x="347.5" y="645.7" font-size="11" fill="#222" font-family="Liberation Mono" textLength="17" lengthAdjust="spacingAndGlyphs">CCI</text>
<text x="382" y="645.7" font-size="11" fill="#222" font-family="Liberation Mono" textLength="17" lengthAdjust="spacingAndGlyphs">KDJ</text>
<text x="415" y="645.7" font-size="11" fill="#222" font-family="Liberation Mono" textLength="17" lengthAdjust="spacingAndGlyphs">LW&amp;</text>
<text x="456" y="645.7" font-size="11" fill="#222" font-family="Liberation Mono" textLength="17" lengthAdjust="spacingAndGlyphs">RSI</text>
<text x="489" y="645.7" font-size="11" fill="#222" font-family="Liberation Mono" textLength="11" lengthAdjust="spacingAndGlyphs">CR</text>
<text x="519" y="645.7" font-size="11" fill="#222" font-family="Liberation Mono" textLength="17" lengthAdjust="spacingAndGlyphs">PSY</text>
<text x="551 563" y="646.3" font-size="12" fill="#111" font-family="'Liberation Serif','Noto Serif CJK SC',serif">设置</text>
<defs><filter id="ws" x="-5%" y="-10%" width="110%" height="130%"><feDropShadow dx="0.9" dy="0.9" stdDeviation="0.45" flood-color="#c39a6c" flood-opacity="1"/></filter></defs>
</svg></body></html>
